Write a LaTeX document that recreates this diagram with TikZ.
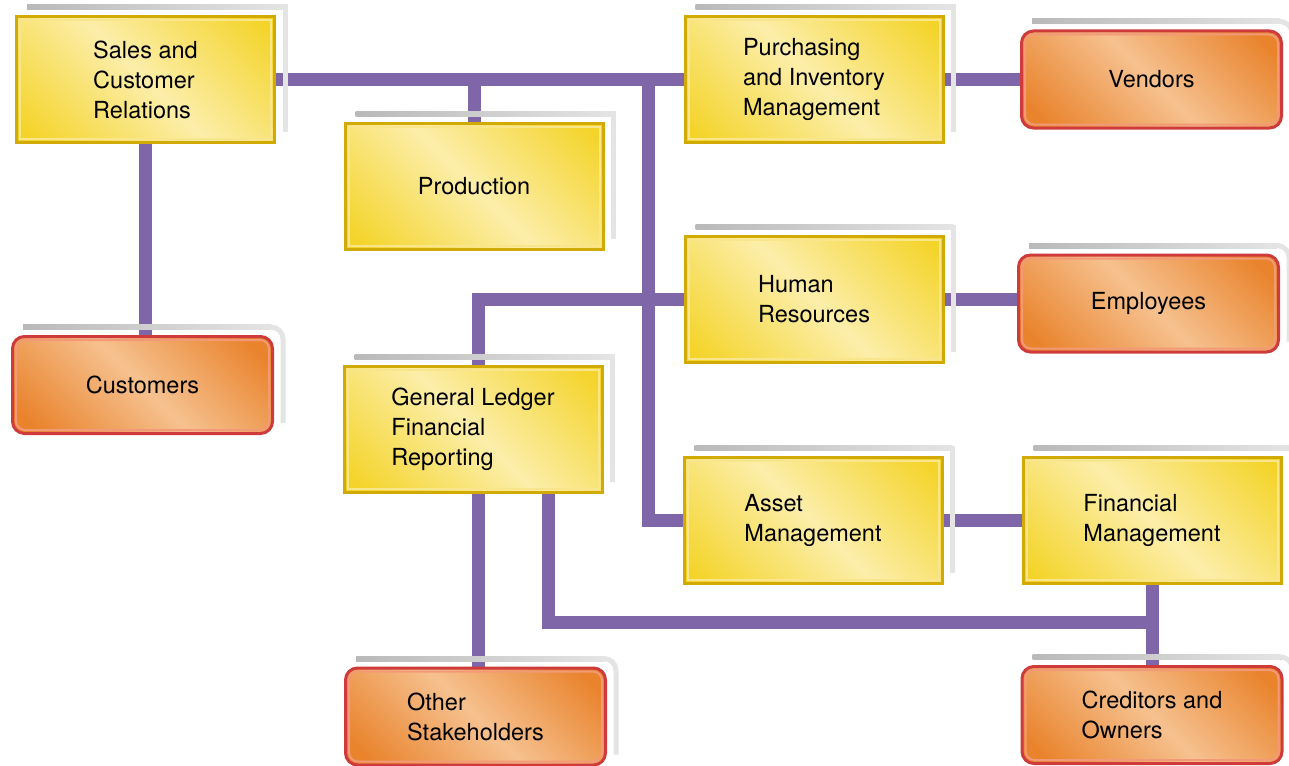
\documentclass[tikz,border=0pt]{standalone}
\usepackage{fontspec}
\setmainfont{TeX Gyre Heros}
\usetikzlibrary{backgrounds,calc}
\definecolor{golddark}{HTML}{D2AA05}
\definecolor{goldlight}{HTML}{F8E58C}
\definecolor{ydark}{HTML}{F4D42A}
\definecolor{ylight}{HTML}{FCEEAA}
\definecolor{reddark}{HTML}{CF3A3A}
\definecolor{redlight}{HTML}{F29A78}
\definecolor{odark}{HTML}{E9832C}
\definecolor{olight}{HTML}{F6C18F}
\definecolor{linkpurple}{HTML}{7E66A8}
\definecolor{shadedark}{HTML}{B9B9B9}
\definecolor{shadelight}{HTML}{E4E4E4}
\pgfdeclarehorizontalshading{yellowband}{100bp}{color(0bp)=(ydark); color(18bp)=(ydark); color(50bp)=(ylight); color(82bp)=(ydark); color(100bp)=(ydark)}
\pgfdeclarehorizontalshading{orangeband}{100bp}{color(0bp)=(odark); color(20bp)=(odark); color(50bp)=(olight); color(80bp)=(odark); color(100bp)=(odark)}
\pgfdeclarelayer{shadowlayer}
\pgfsetlayers{background,shadowlayer,main}
\newcommand\boxshade[2][0pt]{%
  \fill[left color=shadedark,right color=shadelight]
    ([shift={(12pt,5.5pt)}]#2.north west) rectangle ([shift={(9pt-#1,10.5pt)}]#2.north east);
  \draw[shadelight,line width=5pt,rounded corners=#1]
    ([shift={(8pt-#1,8pt)}]#2.north east) -| ([shift={(9pt,12pt)}]#2.south east);}
\tikzset{
  dept/.style={draw=golddark,line width=3pt,shading=yellowband,shading angle=45,
    minimum width=258pt,minimum height=126pt,align=left,
    font=\fontsize{23.5}{30}\selectfont,
    path picture={\draw[goldlight,line width=2pt]
      ([shift={(3.5pt,-3.5pt)}]path picture bounding box.north west) rectangle
      ([shift={(-3.5pt,3.5pt)}]path picture bounding box.south east);}},
  party/.style={draw=reddark,line width=3pt,rounded corners=12pt,shading=orangeband,shading angle=45,
    minimum width=260pt,minimum height=97pt,align=left,
    font=\fontsize{23.5}{30}\selectfont,
    path picture={\draw[redlight,line width=2pt,rounded corners=9pt]
      ([shift={(3.5pt,-3.5pt)}]path picture bounding box.north west) rectangle
      ([shift={(-3.5pt,3.5pt)}]path picture bounding box.south east);}},
  link/.style={draw=linkpurple,line width=13pt}
}
\begin{document}
\begin{tikzpicture}[x=1pt,y=-1pt]
  \useasboundingbox (0,0) rectangle (1289,765);
  \node[dept] (sales) at (145.5,79.5) {Sales and\\Customer\\Relations};
  \node[dept] (prod) at (474,186.5) {Production};
  \node[dept] (purch) at (814,79.5) {Purchasing\\and Inventory\\Management};
  \node[dept] (hr) at (814,299.5) {Human\\Resources};
  \node[dept] (gl) at (473,429) {General Ledger\\Financial\\Reporting};
  \node[dept] (asset) at (813,520.5) {Asset\\Management};
  \node[dept] (fin) at (1152,520.5) {Financial\\Management};
  \node[party] (vend) at (1151.5,79.5) {Vendors};
  \node[party] (emp) at (1148.5,303.5) {Employees};
  \node[party] (cust) at (142.5,385) {Customers};
  \node[party] (other) at (475.5,716.5) {Other\\Stakeholders};
  \node[party] (cred) at (1152,715) {Creditors and\\Owners};
  \begin{pgfonlayer}{shadowlayer}
    \foreach \n in {sales,prod,purch,hr,gl,asset,fin}{\boxshade{\n}}
    \foreach \n in {vend,emp,cust,other,cred}{\boxshade[12pt]{\n}}
  \end{pgfonlayer}
  \begin{pgfonlayer}{background}
    \coordinate (trunk) at (648,79.5);
    \coordinate (bus) at (fin.south |- 0,622);
    \draw[link] (sales.east) -- (purch.west);
    \draw[link] (prod.north) -- (prod.north |- sales.east);
    \draw[link] (trunk) |- (asset.west);
    \draw[link] (hr.west) -| ([xshift=5pt]gl.north);
    \draw[link] (purch.east) -- (vend.west);
    \draw[link] (hr.east) -- (hr.east -| emp.west);
    \draw[link] (asset.east) -- (fin.west);
    \draw[link] (sales.south) -- (sales.south |- cust.north);
    \draw[link] ([xshift=5pt]gl.south) -- ([xshift=5pt]gl.south |- other.north);
    \draw[link] (fin.south) -- (cred.north);
    \draw[link] ([xshift=75pt]gl.south) |- (bus);
  \end{pgfonlayer}
\end{tikzpicture}
\end{document}
